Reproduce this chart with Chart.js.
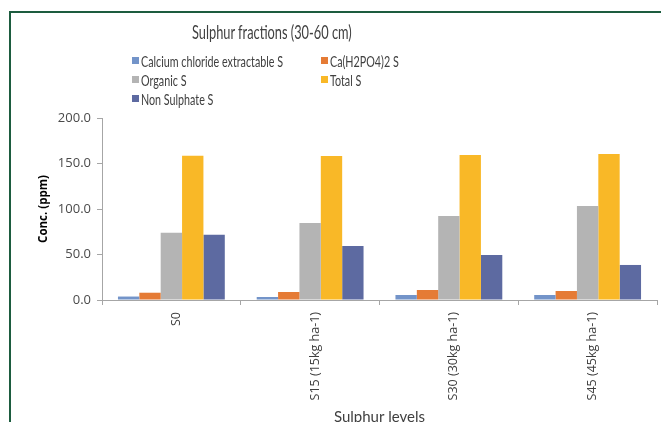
<!DOCTYPE html>
<html>
<head>
<meta charset="utf-8">
<script src="https://cdn.jsdelivr.net/npm/chart.js@4"></script>
<style>
  html, body { margin:0; padding:0; background:#fff; overflow:hidden; }
  #wrap { position:relative; width:661px; height:422px; overflow:hidden; }
  #frame { position:absolute; left:9px; top:11px; width:700px; height:500px; border-left:2px solid #1d5c3f; border-top:2px solid #1d5c3f; box-sizing:border-box; }
  #cv { position:absolute; left:0; top:0; }
  #title { position:absolute; left:272px; top:20px; font-family:Lato,"Open Sans",sans-serif; font-size:19px; color:#404040; white-space:nowrap; transform-origin:0 0; }
  .lg { position:absolute; font-family:Lato,"Open Sans",sans-serif; font-size:15px; color:#404040; white-space:nowrap; line-height:16px; }
  .lg i { position:absolute; left:0; top:4px; width:7px; height:7px; }
  .lg span { position:absolute; left:9px; top:0; transform-origin:0 0; }
</style>
</head>
<body>
<div id="wrap">
  <div id="frame"></div>
  <canvas id="cv" width="661" height="426"></canvas>
  <div id="title"></div>
  <div id="legend"></div>
</div>
<script>
const chartTitle = "Sulphur fractions (30-60 cm)";
const categories = ["S0", "S15 (15kg ha-1)", "S30 (30kg ha-1)", "S45 (45kg ha-1)"];
const seriesNames = ["Calcium chloride extractable S", "Ca(H2PO4)2 S", "Organic S", "Total S", "Non Sulphate S"];
const calciumChlorideS = [3.8, 3.3, 5.5, 5.5];
const caH2PO4S = [8.0, 8.8, 11.0, 9.9];
const organicS = [74.0, 84.6, 92.3, 103.3];
const totalS = [158.5, 158.3, 159.3, 160.4];
const nonSulphateS = [71.8, 59.3, 49.5, 38.5];
const yTicks = [0, 50, 100, 150, 200];
const seriesColors = ["#7394c9", "#e57b35", "#b4b4b4", "#f9b827", "#5d6aa1"];
const yTitle = "Conc. (ppm)";
const xTitle = "Sulphur levels";

const seriesValues = [calciumChlorideS, caH2PO4S, organicS, totalS, nonSulphateS];

// narrow-font emulation: horizontally condense HTML text to the reference widths
const mctx = document.createElement('canvas').getContext('2d');
function textWidth(t, font) { mctx.font = font; return mctx.measureText(t).width; }

const titleEl = document.getElementById('title');
titleEl.textContent = chartTitle;
const tScale = 160 / textWidth(chartTitle, '19px Lato');
titleEl.style.transform = 'translateX(-80px) scaleX(' + tScale + ')';

const lgScale = 142 / textWidth(seriesNames[0], '15px Lato');
const legendPos = [[132,53],[321,53],[132,72],[321,72],[132,91]];
const lgEl = document.getElementById('legend');
seriesNames.forEach((n,i)=>{
  const d = document.createElement('div');
  d.className = 'lg';
  d.style.left = legendPos[i][0] + 'px';
  d.style.top = legendPos[i][1] + 'px';
  const sq = document.createElement('i');
  sq.style.background = seriesColors[i];
  const sp = document.createElement('span');
  sp.textContent = n;
  sp.style.transform = 'scaleX(' + lgScale + ')';
  d.appendChild(sq); d.appendChild(sp);
  lgEl.appendChild(d);
});

new Chart(document.getElementById('cv'), {
  type: 'bar',
  data: {
    labels: categories,
    datasets: seriesNames.map((n,i)=>({
      label: n,
      data: seriesValues[i],
      backgroundColor: seriesColors[i],
      borderWidth: 0,
      categoryPercentage: 0.77,
      barPercentage: 1.0
    }))
  },
  options: {
    responsive: false,
    animation: false,
    devicePixelRatio: 1,
    layout: { padding: { top: 118, left: 37, right: 4, bottom: 0 } },
    plugins: { legend: { display: false }, title: { display: false }, tooltip: { enabled: false } },
    scales: {
      x: {
        grid: { display: true, drawOnChartArea: false, drawTicks: true, tickLength: 5, color: '#a6a6a6', offset: true },
        border: { color: '#a6a6a6', width: 1 },
        ticks: { maxRotation: 90, minRotation: 90, color: '#404040', font: { family: '"Open Sans"', size: 12.5 }, padding: 7, labelOffset: 5 },
        title: { display: true, text: xTitle, color: '#404040', font: { family: 'Lato, "Open Sans", sans-serif', size: 15 }, padding: { top: 0, bottom: 0 } },
        afterFit: (s) => { s.height = 126; }
      },
      y: {
        min: 0, max: 200,
        afterBuildTicks: (s) => { s.ticks = yTicks.map(v=>({value:v})); },
        grid: { display: true, drawOnChartArea: false, drawTicks: true, tickLength: 5, color: '#a6a6a6' },
        border: { color: '#a6a6a6', width: 1 },
        ticks: { color: '#4a4a4a', font: { family: '"Open Sans"', size: 13 }, padding: 6, callback: (v)=>Number(v).toFixed(1) },
        title: { display: true, text: yTitle, color: '#000', font: { family: '"Open Sans"', size: 11.5, weight: 'bold' }, padding: { top: 0, bottom: 0 } },
        afterFit: (s) => { s.width = 65; }
      }
    }
  }
});
</script>
</body>
</html>
